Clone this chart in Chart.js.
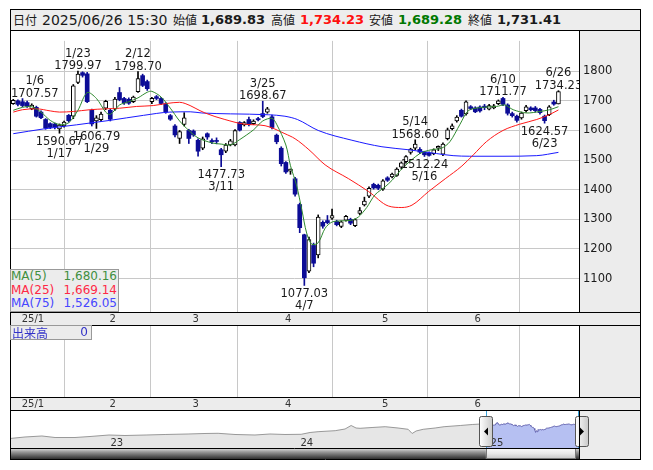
<!DOCTYPE html>
<html lang="ja">
<head>
<meta charset="utf-8">
<script src="https://cdn.jsdelivr.net/npm/chart.js@4.4.1/dist/chart.umd.min.js"></script>
<style>
  html, body { margin: 0; padding: 0; background: #fff; }
  body { width: 653px; height: 470px; position: relative; overflow: hidden;
         font-family: "DejaVu Sans", "Noto Sans CJK JP", sans-serif; color: #1a1a1a; }
  canvas { position: absolute; left: 0; }
  #head { position: absolute; left: 10px; top: 9px; width: 631px; height: 22px; box-sizing: border-box;
          border: 1px solid #000; background: #ededed; }
  #head span { position: absolute; top: 0; line-height: 20px; white-space: nowrap; }
  .k { font-family: "Noto Sans CJK JP", sans-serif; font-size: 12px; }
  .t { font-size: 14px; }
  .v { font-size: 13px; font-weight: bold; }
  #maBox { position: absolute; left: 10px; top: 269px; width: 109px; height: 43px; box-sizing: border-box;
           border: 1px solid #999; background: #ececec; font-size: 12px; }
  #maBox div { height: 13.7px; line-height: 13.7px; position: relative; }
  #maBox b { font-weight: normal; position: absolute; right: 1px; top: 0; }
  #volBox { position: absolute; left: 10px; top: 325px; width: 82px; height: 15px; box-sizing: border-box;
            border: 1px solid #999; background: #ececec; color: #3232c8; font-size: 12px; line-height: 13px; }
  #volBox span { position: absolute; }
</style>
</head>
<body>
<div id="head">
  <span class="k" style="left:2px">日付</span>
  <span class="t" style="left:31px">2025/06/26 15:30</span>
  <span class="k" style="left:162px">始値</span>
  <span class="v" id="hOpen" style="left:190px"></span>
  <span class="k" style="left:260px">高値</span>
  <span class="v" id="hHigh" style="left:289px;color:#ff1010"></span>
  <span class="k" style="left:358px">安値</span>
  <span class="v" id="hLow" style="left:387px;color:#007800"></span>
  <span class="k" style="left:457px">終値</span>
  <span class="v" id="hClose" style="left:486px"></span>
</div>
<canvas id="main" width="653" height="295" style="top:30px"></canvas>
<canvas id="vol" width="653" height="85" style="top:325px"></canvas>
<canvas id="nav" width="653" height="50" style="top:410px"></canvas>
<div id="maBox">
  <div style="color:#3f8f3f">MA(5)<b id="ma5v"></b></div>
  <div style="color:#ff2846">MA(25)<b id="ma25v"></b></div>
  <div style="color:#4646ff">MA(75)<b id="ma75v"></b></div>
</div>
<div id="volBox"><span class="k" style="left:1px">出来高</span><span style="right:3px">0</span></div>
<script>
// daily candles, 2024/12/27 .. 2025/06/26 (index -2 .. 116, 0 = 2025/01/06)
const firstIdx = -2;
const opens = [1690,1700,1697,1694,1673,1678,1662,1637,1623,1622,1605,1615,1651,1648,1762,1795,1791,1668,1632,1636,
  1675,1668,1672,1728,1708,1705,1697,1731,1785,1765,1697,1714,1708,1690,1650,1615,1573,1620,1600,1598,
  1567,1540,1589,1566,1566,1535,1530,1551,1551,1627,1619,1637,1623,1640,1657,1662,1646,1584,1540,1492,
  1463,1437,1350,1248,1125,1212,1180,1290,1296,1304,1293,1276,1297,1300,1279,1320,1349,1378,1418,1415,
  1402,1440,1443,1448,1476,1495,1526,1540,1536,1527,1524,1522,1540,1520,1572,1606,1632,1668,1656,1680,
  1676,1679,1682,1672,1676,1690,1708,1686,1657,1648,1642,1667,1676,1676,1671,1648,1653,1696,1689.83];
const highs = [1705,1703,1707.57,1699,1690,1682,1666,1640,1626,1625,1622,1632,1654,1755,1799.97,1798,1796,1672,1650,1662,
  1702,1672,1712,1745,1712,1710,1716,1798.70,1790,1770,1712,1718,1712,1694,1654,1620,1600,1660,1604,1602,
  1572,1578,1592,1572,1575,1540,1556,1570,1603,1630,1630,1645,1636,1644,1698.67,1678,1652,1588,1545,1495,
  1470,1442,1355,1250,1240,1220,1315,1295,1313,1335,1297,1295,1314,1304,1302,1340,1375,1410,1422,1419,
  1434,1444,1456,1474,1494,1515,1540,1568.60,1542,1530,1528,1538,1548,1558,1608,1622,1650,1672,1700,1684,
  1680,1683,1688,1688,1688,1703,1711.77,1690,1662,1652,1662,1685,1680,1681,1675,1652,1684,1702,1734.23];
const lows = [1688,1683,1680,1678,1670,1645,1640,1604,1606,1605,1590.67,1611,1628,1640,1758,1780,1694,1615,1606.79,1630,
  1670,1632,1668,1700,1688,1688,1694,1728,1748,1735,1690,1704,1687,1658,1634,1578,1556,1615,1556,1580,
  1513,1535,1570,1555,1555,1477.73,1525,1548,1548,1598,1615,1615,1620,1632,1643,1658,1605,1555,1480,1455,
  1452,1378,1255,1077.03,1120,1140,1170,1270,1285,1300,1278,1272,1294,1282,1275,1316,1345,1373,1402,1400,
  1398,1428,1440,1445,1470,1490,1520,1535,1522,1512.24,1513,1518,1532,1515,1568,1602,1628,1645,1652,1670,
  1660,1662,1670,1669,1673,1687,1684,1652,1645,1628,1638,1662,1666,1662,1655,1624.57,1650,1685,1689.28];
const closes = [1702,1688,1684,1682,1686,1648,1643,1608,1610,1611,1618,1628,1633,1751,1790,1786,1697,1622,1643,1655,
  1698,1638,1706,1704,1693,1692,1713,1775,1752,1741,1708,1708,1691,1662,1638,1585,1596,1643,1573,1585,
  1530,1572,1578,1562,1563,1518,1551,1565,1600,1601,1627,1620,1632,1636,1647,1673,1610,1562,1488,1460,
  1464,1385,1272,1103,1232,1152,1308,1277,1289,1313,1282,1292,1310,1287,1299,1330,1362,1405,1406,1405,
  1430,1432,1453,1470,1491,1512,1537,1554,1527,1518,1516,1535,1545,1554,1602,1616,1645,1648,1697,1674,
  1663,1666,1677,1684,1683,1700,1688,1658,1650,1634,1659,1680,1670,1667,1660,1633,1680,1689,1731.41];

// moving averages (candle index, value)
const ma5Idx = [-2,0,2,4,6,8,10,12,14,16,18,19,21,23,25,27,28,30,32,34,36,38,41,43,45,47,50,52,54,55,57,58,
  59.3,60.5,61.5,62.6,64,65.5,67,69,71.2,72.7,74.5,76.3,78.5,80,82.4,86,88.5,90.7,92.5,94.7,96.5,99,102.6,104.4,106.2,109.1,112,114.1,116];
const ma5Val = [1668,1678,1680,1662,1634,1620,1626,1668,1728,1708,1662,1654,1686,1697,1710,1729,1732,1713,1675,1632,1600,1575,1558,1554,1551,1569,1602,1632,1641,1621,1551,1481,
  1416,1329,1254,1216,1221,1270,1291,1295,1297,1308,1340,1383,1410,1432,1475,1522,1535,1540,1562,1621,1667,1677,1681,1686,1670,1659,1664,1670,1680.16];
const ma25Idx = [-2,0,3,6,8,11,14.6,18,21,24.7,28.3,31.2,34,35.2,39.5,43.8,48.2,52.5,56.8,59,62,65.5,70.6,74.9,79.2,82.1,84.3,87.9,91.5,95.1,97.6,100.4,104,107.6,111.3,114.1,116];
const ma25Val = [1662,1670,1673,1666,1662,1664,1670,1673,1675,1681,1684,1691,1695,1691,1659,1637,1621,1616,1589,1572,1535,1484,1437,1394,1345,1340,1348,1394,1437,1480,1518,1562,1600,1621,1637,1654,1669.14];
const ma75Idx = [-2,4.5,11.7,18.9,26.2,31.9,36.3,38.8,45,53.2,56.8,59.5,64,71.3,77.8,83.5,89.6,93.2,96.8,104,111.3,116];
const ma75Val = [1589,1605,1619,1634,1651,1662,1663,1659,1656,1653,1648,1637,1600,1567,1545,1535,1522,1515,1513,1513,1515,1526.05];

// axis ticks and labels
const monthIdx = [0, 19, 37, 57, 78, 98];
const monthLabels = ['25/1', '2', '3', '4', '5', '6'];
const priceTicks = [1100, 1200, 1300, 1400, 1500, 1600, 1700, 1800];

// marked highs / lows
const peakIdx = [0, 12, 25, 52, 85, 104, 116];
const peakDates = ['1/6', '1/23', '2/12', '3/25', '5/14', '6/10', '6/26'];
const troughIdx = [8, 16, 43, 61, 87, 113];
const troughDates = ['1/17', '1/29', '3/11', '4/7', '5/16', '6/23'];

// overview line before the selected range (year, value)
const navYears = [2022.482,2022.561,2022.650,2022.719,2022.824,2022.903,2023.003,2023.087,2023.198,2023.298,2023.419,2023.508,
  2023.577,2023.666,2023.771,2023.850,2023.929,2024.014,2024.061,2024.103,2024.193,2024.245,2024.277,2024.303,2024.324,
  2024.387,2024.456,2024.524,2024.577,2024.598,2024.619,2024.656,2024.719,2024.766,2024.851,2024.914,2024.961];
const navValues = [673,779,850,743,743,814,920,885,920,956,991,1027,1041,956,920,991,956,970,1097,1154,1225,1345,1593,1416,1395,
  1451,1508,1416,1324,1027,1204,1324,1416,1508,1593,1664,1699];
const navYearMarks = [2023, 2024, 2025];
const navYearLabels = ['23', '24', '25'];
const selStart = 2024.986, selEnd = 2025.476;

const fmt = v => v.toLocaleString('en-US', { minimumFractionDigits: 2, maximumFractionDigits: 2 });
const last = closes.length - 1;
document.getElementById('hOpen').textContent = fmt(opens[last]);
document.getElementById('hHigh').textContent = fmt(highs[last]);
document.getElementById('hLow').textContent = fmt(lows[last]);
document.getElementById('hClose').textContent = fmt(closes[last]);
document.getElementById('ma5v').textContent = fmt(ma5Val[ma5Val.length - 1]);
document.getElementById('ma25v').textContent = fmt(ma25Val[ma25Val.length - 1]);
document.getElementById('ma75v').textContent = fmt(ma75Val[ma75Val.length - 1]);

const upBody = [], dnBody = [], upWick = [], dnWick = [];
closes.forEach((c, k) => {
  const x = firstIdx + k;
  const up = c >= opens[k];
  (up ? upBody : dnBody).push({ x, y: [opens[k], c] });
  (up ? upWick : dnWick).push({ x, y: [lows[k], highs[k]] });
});
const pts = (xs, ys) => xs.map((x, k) => ({ x, y: ys[k] }));

const NAVY = '#0c0c96';
const GRID = '#c8c8c8';
const PANEL = '#ececec';
const X_MIN = -2.706, X_MAX = 120.45;
const FRAME_R = 640;

Chart.defaults.font.family = '"DejaVu Sans", sans-serif';
Chart.defaults.animation = false;

function monthAxis(showLabels) {
  return {
    type: 'linear', min: X_MIN, max: X_MAX, offset: false,
    afterBuildTicks: s => { s.ticks = monthIdx.map(i => ({ value: i - 0.4 })); },
    afterFit: s => { s.height = 13; },
    grid: { color: GRID, drawTicks: false },
    border: { display: false },
    ticks: {
      display: showLabels, autoSkip: false, maxRotation: 0, align: 'start', padding: 1, labelOffset: 1,
      color: '#333', font: { size: 10 },
      callback: (v, k) => monthLabels[k]
    }
  };
}

// grey panels and black frame around a price-style panel
function framePlugin(id) {
  return {
    id,
    beforeDraw(chart) {
      const { ctx, chartArea: a, width, height } = chart;
      ctx.save();
      ctx.fillStyle = '#fff';
      ctx.fillRect(0, 0, width, height);
      ctx.fillStyle = PANEL;
      ctx.fillRect(a.right, 0, FRAME_R - a.right, height);
      ctx.fillRect(a.left, a.bottom, FRAME_R - a.left, height - a.bottom);
      ctx.restore();
    },
    afterDraw(chart) {
      const { ctx, chartArea: a, height } = chart;
      ctx.save();
      ctx.strokeStyle = '#000';
      ctx.lineWidth = 1;
      ctx.beginPath();
      ctx.moveTo(a.left + 0.5, 0); ctx.lineTo(a.left + 0.5, height);
      ctx.moveTo(a.right + 0.5, 0); ctx.lineTo(a.right + 0.5, a.bottom);
      ctx.moveTo(FRAME_R + 0.5, 0); ctx.lineTo(FRAME_R + 0.5, height);
      ctx.moveTo(a.left, a.bottom + 0.5); ctx.lineTo(FRAME_R, a.bottom + 0.5);
      ctx.moveTo(a.left, 0.5); ctx.lineTo(FRAME_R, 0.5);
      ctx.stroke();
      ctx.restore();
    }
  };
}

const notePlugin = {
  id: 'notes',
  afterDatasetsDraw(chart) {
    const { ctx, chartArea: a, scales: { x, y } } = chart;
    ctx.save();
    ctx.beginPath();
    ctx.rect(a.left, a.top, a.right - a.left, a.bottom - a.top);
    ctx.clip();
    ctx.font = '11.5px "DejaVu Sans"';
    ctx.fillStyle = '#1a1a1a';
    ctx.textAlign = 'center';
    ctx.textBaseline = 'alphabetic';
    const put = (i, price, date, above) => {
      const val = price.toFixed(2);
      const w = Math.max(ctx.measureText(val).width, ctx.measureText(date).width);
      const cx = Math.max(x.getPixelForValue(i), a.left + w / 2 + 1);
      const py = y.getPixelForValue(price);
      if (above) {
        ctx.fillText(val, cx, py - 2);
        ctx.fillText(date, cx, py - 14.5);
      } else {
        ctx.fillText(val, cx, py + 11.5);
        ctx.fillText(date, cx, py + 23.5);
      }
    };
    peakIdx.forEach((i, k) => put(i, highs[i - firstIdx], peakDates[k], true));
    troughIdx.forEach((i, k) => put(i, lows[i - firstIdx], troughDates[k], false));
    ctx.restore();
  }
};

new Chart(document.getElementById('main'), {
  type: 'bar',
  data: {
    datasets: [
      { type: 'line', data: pts(ma5Idx, ma5Val), borderColor: '#2f8a2f', borderWidth: 1, pointRadius: 0, tension: 0.3, order: 0 },
      { type: 'line', data: pts(ma25Idx, ma25Val), borderColor: '#ff1a1a', borderWidth: 1, pointRadius: 0, cubicInterpolationMode: 'monotone', order: 0 },
      { type: 'line', data: pts(ma75Idx, ma75Val), borderColor: '#1a1aff', borderWidth: 1, pointRadius: 0, cubicInterpolationMode: 'monotone', order: 0 },
      { data: upBody, backgroundColor: '#fff', borderColor: '#000', borderWidth: 1, borderSkipped: false,
        barThickness: 4, minBarLength: 2, grouped: false, order: 1 },
      { data: dnBody, backgroundColor: NAVY, borderWidth: 0, barThickness: 4, minBarLength: 1, grouped: false, order: 1 },
      { data: upWick, backgroundColor: '#000', barThickness: 1, grouped: false, order: 2 },
      { data: dnWick, backgroundColor: NAVY, barThickness: 1, grouped: false, order: 2 }
    ]
  },
  options: {
    responsive: false,
    devicePixelRatio: 1,
    layout: { padding: { left: 10, right: 13, top: 0, bottom: 0 } },
    plugins: { legend: { display: false }, tooltip: { enabled: false } },
    scales: {
      x: monthAxis(true),
      y: {
        position: 'right', min: 987.4, max: 1902.2,
        afterBuildTicks: s => { s.ticks = priceTicks.map(v => ({ value: v })); },
        afterFit: s => { s.width = 61; },
        grid: { color: GRID, drawTicks: false },
        border: { display: false },
        ticks: { padding: 4, color: '#1a1a1a', font: { size: 11.5 }, callback: v => String(v) }
      }
    }
  },
  plugins: [framePlugin('mainFrame'), notePlugin]
});

new Chart(document.getElementById('vol'), {
  type: 'bar',
  data: { datasets: [{ data: [] }] },
  options: {
    responsive: false,
    devicePixelRatio: 1,
    layout: { padding: { left: 10, right: 13, top: 0, bottom: 0 } },
    plugins: { legend: { display: false }, tooltip: { enabled: false } },
    scales: {
      x: monthAxis(true),
      y: {
        position: 'right', min: 0, max: 1,
        afterFit: s => { s.width = 61; },
        grid: { display: false },
        border: { display: false },
        ticks: { display: false }
      }
    }
  },
  plugins: [framePlugin('volFrame')]
});

// overview strip
const selSpan = (selEnd - selStart) / (closes.length - 1);
const selPts = closes.map((c, k) => ({ x: selStart + k * selSpan, y: c }));
const pastPts = pts(navYears, navValues).concat([selPts[0]]);

const navPlugin = {
  id: 'navDeco',
  beforeDraw(chart) {
    const { ctx, chartArea: a, width, height } = chart;
    ctx.save();
    ctx.fillStyle = '#fff';
    ctx.fillRect(0, 0, width, height);
    ctx.fillStyle = PANEL;
    ctx.fillRect(a.right, 0, FRAME_R - a.right, height);
    ctx.restore();
  },
  afterDraw(chart) {
    const { ctx, chartArea: a, scales: { x } } = chart;
    const xs = x.getPixelForValue(selStart), xe = Math.min(x.getPixelForValue(selEnd), a.right - 1);
    ctx.save();
    // year labels
    ctx.font = '10px "DejaVu Sans"';
    ctx.fillStyle = '#333';
    ctx.textAlign = 'left';
    navYearMarks.forEach((yv, k) => ctx.fillText(navYearLabels[k], x.getPixelForValue(yv) + 2, a.bottom - 2));
    // selection edges
    ctx.strokeStyle = '#39a0d8';
    ctx.lineWidth = 1;
    [xs, xe].forEach(px => {
      ctx.beginPath();
      ctx.moveTo(Math.round(px) + 0.5, a.top); ctx.lineTo(Math.round(px) + 0.5, a.bottom);
      ctx.stroke();
    });
    // scrollbar
    const sy = a.bottom, sh = 11;
    let g = ctx.createLinearGradient(0, sy, 0, sy + sh);
    g.addColorStop(0, '#e6e6e6'); g.addColorStop(0.35, '#9a9a9a'); g.addColorStop(1, '#2e2e2e');
    ctx.fillStyle = g;
    ctx.fillRect(a.left, sy, a.right - a.left, sh);
    g = ctx.createLinearGradient(0, sy, 0, sy + sh);
    g.addColorStop(0, '#fbfbfb'); g.addColorStop(0.5, '#e8e8e8'); g.addColorStop(1, '#c4c4c4');
    ctx.fillStyle = g;
    ctx.fillRect(xs, sy + 1, xe - xs - 3, sh - 1);
    ctx.strokeStyle = '#777';
    ctx.strokeRect(Math.round(xs) + 0.5, sy + 0.5, Math.round(xe - xs - 3), sh - 1);
    // handles
    const handle = (cx, dir) => {
      const hx = Math.round(cx) - 6.5, hy = a.top + 5.5, hw = 13, hh = 30;
      const hg = ctx.createLinearGradient(hx, 0, hx + hw, 0);
      hg.addColorStop(0, '#ffffff'); hg.addColorStop(1, '#c9c9c9');
      ctx.fillStyle = hg;
      ctx.strokeStyle = '#555';
      ctx.beginPath();
      ctx.roundRect(hx, hy, hw, hh, 2);
      ctx.fill(); ctx.stroke();
      ctx.fillStyle = '#000';
      ctx.beginPath();
      const mx = hx + hw / 2, my = hy + hh / 2;
      ctx.moveTo(mx - 2 * dir, my);
      ctx.lineTo(mx + 2 * dir, my - 4);
      ctx.lineTo(mx + 2 * dir, my + 4);
      ctx.closePath();
      ctx.fill();
    };
    handle(xs, 1);
    handle(xe + 4, -1);
    // frame
    ctx.strokeStyle = '#000';
    ctx.beginPath();
    ctx.moveTo(a.left + 0.5, 0); ctx.lineTo(a.left + 0.5, sy + sh);
    ctx.moveTo(a.right + 0.5, 0); ctx.lineTo(a.right + 0.5, sy + sh);
    ctx.moveTo(FRAME_R + 0.5, 0); ctx.lineTo(FRAME_R + 0.5, sy + sh);
    ctx.moveTo(a.left, 0.5); ctx.lineTo(FRAME_R, 0.5);
    ctx.moveTo(a.left, sy + 0.5); ctx.lineTo(a.right, sy + 0.5);
    ctx.moveTo(a.left, sy + sh + 0.5); ctx.lineTo(FRAME_R + 1, sy + sh + 0.5);
    ctx.stroke();
    ctx.restore();
  }
};

new Chart(document.getElementById('nav'), {
  type: 'line',
  data: {
    datasets: [
      { data: pastPts, borderColor: '#999', backgroundColor: '#e6e6e6', fill: 'origin', borderWidth: 1, pointRadius: 0, tension: 0 },
      { data: selPts, borderColor: '#6464b0', backgroundColor: '#b6c0f2', fill: 'origin', borderWidth: 1, pointRadius: 0, tension: 0 }
    ]
  },
  options: {
    responsive: false,
    devicePixelRatio: 1,
    layout: { padding: { left: 10, right: 74, top: 1, bottom: 12 } },
    plugins: { legend: { display: false }, tooltip: { enabled: false } },
    scales: {
      x: { type: 'linear', display: false, min: 2022.482, max: selEnd },
      y: { display: false, min: 0, max: 2620 }
    }
  },
  plugins: [navPlugin]
});
</script>
</body>
</html>
